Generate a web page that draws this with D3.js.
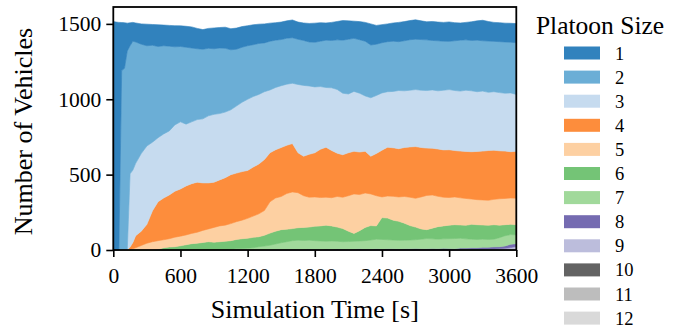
<!DOCTYPE html>
<html>
<head>
<meta charset="utf-8">
<script src="https://cdn.jsdelivr.net/npm/d3@7"></script>
<style>
  html, body { margin: 0; padding: 0; background: #fff; }
  text { font-family: 'Liberation Serif', 'Times New Roman' !important; }
</style>
</head>
<body>
<div id="plotContainer"></div>
<script>
// simulation time [s]
const times = [0,25,50,75,100,125,150,175,200,
  250,300,350,400,450,500,550,600,650,700,750,800,850,900,950,1000,1050,1100,1150,1200,
  1250,1300,1350,1400,1450,1500,1550,1600,1650,1700,1750,1800,1850,1900,1950,2000,2050,2100,2150,2200,
  2250,2300,2350,2400,2450,2500,2550,2600,2650,2700,2750,2800,2850,2900,2950,3000,3050,3100,3150,3200,
  3250,3300,3350,3400,3450,3500,3550,3600];

// vehicles per platoon size
const size1 = [1515,1512,1510,319,303,185,152,125,126,
  135,143,138,144,137,138,140,137,139,140,135,130,132,138,136,140,140,140,137,133,
  132,128,126,120,116,116,115,118,114,116,123,127,123,114,120,122,130,122,114,120,
  125,140,125,120,118,121,128,127,127,129,124,120,126,124,125,129,120,114,116,124,
  128,136,130,126,126,125,126,127];
const size2 = [0,0,0,1190,1205,1320,850,855,805,
  725,665,643,605,585,562,518,500,510,490,470,462,448,435,435,423,398,377,365,355,
  344,338,324,323,314,306,305,302,300,298,292,296,301,314,314,329,352,363,352,355,
  363,350,340,333,332,333,324,332,335,334,336,336,328,332,325,320,330,338,334,334,
  342,334,340,334,338,340,336,343];
const size3 = [0,0,0,0,0,0,485,480,480,
  515,520,455,425,425,425,440,445,410,410,415,425,445,450,440,435,430,445,460,472,
  468,462,450,417,413,410,405,400,453,470,453,437,416,396,416,423,408,390,397,390,
  367,388,385,380,368,374,386,376,376,378,380,382,387,386,396,399,398,398,406,404,
  396,398,386,388,386,384,390,377];
const size4 = [0,0,0,0,0,0,15,42,80,
  95,125,205,258,277,290,305,313,325,330,332,315,305,300,305,315,325,322,322,318,
  325,330,338,325,320,325,320,321,265,262,285,293,320,332,313,287,282,285,283,282,
  277,250,280,310,324,322,320,325,334,343,328,314,310,314,314,317,308,310,312,314,
  320,324,330,326,318,314,307,311];
const size5 = [0,0,0,0,0,0,5,8,15,
  30,45,55,57,53,55,63,64,65,68,73,80,85,98,105,107,113,118,123,132,
  141,152,164,208,220,220,237,243,232,210,198,194,188,185,187,203,208,235,262,240,
  228,210,200,137,146,158,162,177,188,191,212,227,220,201,190,183,184,180,178,168,
  166,166,166,168,175,174,175,176];
const size6 = [0,0,0,0,0,0,0,0,0,
  0,0,0,5,15,20,22,28,35,42,45,50,55,52,55,55,57,62,65,66,
  69,66,72,80,85,87,83,80,83,87,87,96,100,107,100,94,87,69,52,68,
  88,96,88,145,144,132,126,113,96,84,68,59,71,83,86,90,92,88,90,98,
  98,94,94,96,83,73,68,68];
const size7 = [0,0,0,0,0,0,0,0,0,
  0,0,0,0,0,0,0,0,0,0,0,0,0,0,0,3,5,8,10,12,
  15,22,26,30,37,44,52,57,61,58,59,57,56,52,55,51,49,51,52,52,
  55,60,64,63,59,58,57,56,58,58,63,68,64,63,63,65,67,65,61,57,
  55,54,52,51,60,68,64,58];
const size8 = [0,0,0,0,0,0,0,0,0,
  0,0,0,0,0,0,0,0,0,0,0,0,0,0,0,0,0,0,0,0,
  0,0,0,2,3,4,3,5,4,5,6,5,4,6,5,7,6,5,6,8,
  7,6,8,7,9,8,7,9,8,10,9,8,10,9,11,10,9,11,10,12,
  11,13,12,14,13,16,22,18];
const size9 = [0,0,0,0,0,0,0,0,0,
  0,0,0,0,0,0,0,0,0,0,0,0,0,0,0,0,0,0,0,0,
  0,0,0,0,0,0,0,0,0,0,0,0,0,0,0,0,0,0,0,0,
  0,0,0,0,0,0,0,0,0,0,0,0,0,0,0,0,0,2,3,3,
  4,5,6,7,9,11,16,24];
const size10 = [0,0,0,0,0,0,0,0,0,
  0,0,0,0,0,0,0,0,0,0,0,0,0,0,0,0,0,0,0,0,
  0,0,0,0,0,0,0,0,0,0,0,0,0,0,0,0,0,0,0,0,
  0,0,0,0,0,0,0,0,0,0,0,0,0,0,0,0,0,0,0,0,
  0,0,0,0,0,0,0,0];
const size11 = size10.slice();
const size12 = size10.slice();

const platoonSizes = ['1','2','3','4','5','6','7','8','9','10','11','12'];
const seriesValues = [size1,size2,size3,size4,size5,size6,size7,size8,size9,size10,size11,size12];
const colors = ['#3182bd','#6baed6','#c6dbef','#fd8d3c','#fdd0a2','#74c476',
  '#a1d99b','#756bb1','#bcbddc','#636363','#bdbdbd','#d9d9d9'];

const xTicks = [0,600,1200,1800,2400,3000,3600];
const yTicks = [0,500,1000,1500];

const serif = 'Liberation Serif';

const svgWidth = 683, svgHeight = 328;
const margin = {left: 113.3, right: 166.7, top: 7, bottom: 78};
const width = svgWidth - margin.left - margin.right;
const height = svgHeight - margin.top - margin.bottom;

const rows = times.map((t, i) => {
  const r = {t: t};
  platoonSizes.forEach((k, j) => { r[k] = seriesValues[j][i]; });
  return r;
});

const x = d3.scaleLinear().domain([0, 3600]).range([0, width]);
const y = d3.scaleLinear().domain([0, 1612]).range([height, 0]);

const svg = d3.select('#plotContainer').append('svg')
  .attr('width', svgWidth).attr('height', svgHeight)
  .attr('font-family', serif);

const main = svg.append('g')
  .attr('transform', 'translate(' + margin.left + ',' + margin.top + ')');

// size 12 at the bottom, size 1 on top
const stack = d3.stack().keys(platoonSizes.slice().reverse());
const layers = stack(rows);
const color = d3.scaleOrdinal().domain(platoonSizes).range(colors);

const area = d3.area()
  .x(d => x(d.data.t))
  .y0(d => y(d[0]))
  .y1(d => y(d[1]));

main.append('g').selectAll('path')
  .data(layers)
  .enter().append('path')
  .attr('d', area)
  .attr('fill', d => color(d.key))
  .attr('stroke', d => color(d.key))
  .attr('stroke-width', 0.6);

// axes
const xAxis = d3.axisBottom(x).tickValues(xTicks).tickFormat(d3.format('d')).tickSize(7).tickPadding(6);
const yAxis = d3.axisLeft(y).tickValues(yTicks).tickFormat(d3.format('d')).tickSize(7).tickPadding(5);

const gx = main.append('g').attr('transform', 'translate(0,' + height + ')').call(xAxis);
const gy = main.append('g').call(yAxis);
[gx, gy].forEach(g => {
  g.attr('font-family', serif).attr('font-size', 21.5);
  g.select('.domain').remove();
  g.selectAll('line').attr('stroke', '#000').attr('stroke-width', 1.6);
  g.selectAll('text').attr('fill', '#000').attr('font-family', serif);
});
gx.selectAll('text').attr('dy', '0.95em');

// frame
main.append('rect')
  .attr('width', width).attr('height', height)
  .attr('fill', 'none').attr('stroke', '#000').attr('stroke-width', 1.8);

// axis labels
main.append('text')
  .attr('x', width / 2).attr('y', height + 68)
  .attr('text-anchor', 'middle')
  .attr('font-family', serif).attr('font-size', 26)
  .text('Simulation Time [s]');

svg.append('text')
  .attr('transform', 'translate(32,' + (margin.top + height / 2 + 3) + ') rotate(-90)')
  .attr('text-anchor', 'middle')
  .attr('font-family', serif).attr('font-size', 26)
  .text('Number of Vehicles');

// legend
const legend = svg.append('g').attr('transform', 'translate(564,0)');
legend.append('text')
  .attr('x', 36).attr('y', 34)
  .attr('text-anchor', 'middle')
  .attr('font-family', serif).attr('font-size', 25.5)
  .text('Platoon Size');

const item = legend.selectAll('.item')
  .data(platoonSizes)
  .enter().append('g')
  .attr('class', 'item')
  .attr('transform', (d, i) => 'translate(0,' + (53 + i * 24.1) + ')');
item.append('rect')
  .attr('x', 0).attr('y', -6.5).attr('width', 36).attr('height', 13)
  .attr('fill', d => color(d));
item.append('text')
  .attr('x', 51).attr('y', 6.5)
  .attr('font-family', serif).attr('font-size', 18.5)
  .text(d => d);
</script>
</body>
</html>
